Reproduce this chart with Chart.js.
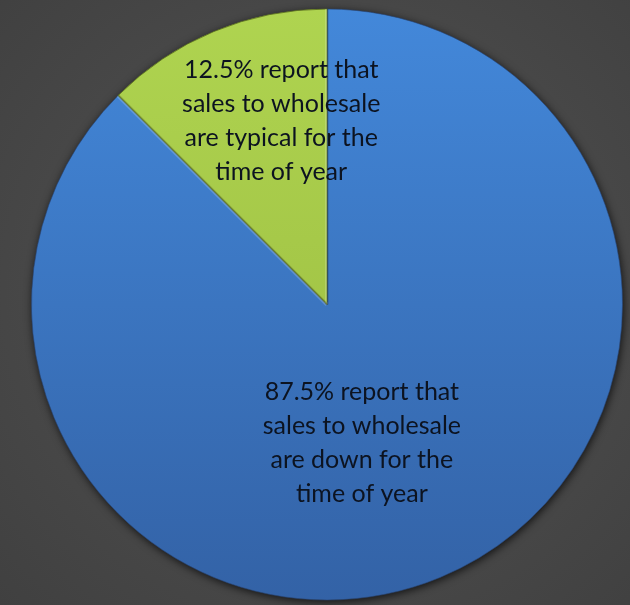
<!DOCTYPE html>
<html>
<head>
<meta charset="utf-8">
<script src="https://cdn.jsdelivr.net/npm/chart.js@4.4.1/dist/chart.umd.min.js"></script>
<style>
  html, body { margin: 0; padding: 0; }
  body {
    width: 630px; height: 605px; overflow: hidden;
    background: radial-gradient(ellipse at 52% 48%, #555555 0%, #4b4b4b 45%, #404040 100%);
  }
  #wrap { position: relative; width: 630px; height: 605px; }
</style>
</head>
<body>
<div id="wrap"><canvas id="pie" width="630" height="605"></canvas></div>
<script>
// Survey responses on wholesale sales for the time of year
const categories = ["Down for the time of year", "Typical for the time of year"];
const shares = [87.5, 12.5];
const labelTails = [
  ["sales to wholesale", "are down for the", "time of year"],
  ["sales to wholesale", "are typical for the", "time of year"]
];

// slice colours: top and bottom stops of each vertical gradient
const sliceTop = ["#4388da", "#afd450"];
const sliceBottom = ["#3362a6", "#98b83e"];

function sliceFill(ctx) {
  const chart = ctx.chart;
  const area = chart.chartArea;
  const i = ctx.dataIndex;
  if (!area) return sliceTop[i];
  const g = chart.ctx.createLinearGradient(0, area.top, 0, area.bottom);
  g.addColorStop(0, sliceTop[i]);
  g.addColorStop(1, sliceBottom[i]);
  return g;
}

// soft shadow under the whole pie
const pieShadow = {
  id: 'pieShadow',
  beforeDatasetsDraw(chart) {
    const arc = chart.getDatasetMeta(0).data[0];
    if (!arc) return;
    const { x, y, outerRadius } = arc.getProps(['x', 'y', 'outerRadius'], true);
    const c = chart.ctx;
    c.save();
    c.shadowColor = 'rgba(0,0,0,0.75)';
    c.shadowBlur = 9;
    c.shadowOffsetX = 1;
    c.shadowOffsetY = 2;
    c.beginPath();
    c.arc(x, y, outerRadius, 0, Math.PI * 2);
    c.fillStyle = '#2f2f2f';
    c.fill();
    c.restore();
  }
};

// bevel highlight: light edge where a slice starts, dark edge where it ends
const sliceBevel = {
  id: 'sliceBevel',
  afterDatasetsDraw(chart) {
    const c = chart.ctx;
    chart.getDatasetMeta(0).data.forEach(arc => {
      const { x, y, startAngle, endAngle, outerRadius } =
        arc.getProps(['x', 'y', 'startAngle', 'endAngle', 'outerRadius'], true);
      c.save();
      c.beginPath();
      c.moveTo(x, y);
      c.arc(x, y, outerRadius, startAngle, endAngle);
      c.closePath();
      c.clip();
      c.lineWidth = 4;
      // edge at the end of the sweep catches the light
      c.strokeStyle = 'rgba(255,255,255,0.18)';
      c.beginPath();
      c.moveTo(x, y);
      c.lineTo(x + outerRadius * Math.cos(endAngle), y + outerRadius * Math.sin(endAngle));
      c.stroke();
      // edge at the start of the sweep sits in shade
      c.lineWidth = 3;
      c.strokeStyle = 'rgba(0,0,0,0.22)';
      c.beginPath();
      c.moveTo(x, y);
      c.lineTo(x + outerRadius * Math.cos(startAngle), y + outerRadius * Math.sin(startAngle));
      c.stroke();
      c.restore();
    });
  }
};

// multi-line value labels placed inside each slice
const sliceLabels = {
  id: 'sliceLabels',
  afterDatasetsDraw(chart, args, opts) {
    const meta = chart.getDatasetMeta(0);
    const c = chart.ctx;
    c.save();
    c.font = opts.font;
    c.fillStyle = opts.color;
    c.textAlign = 'center';
    c.textBaseline = 'middle';
    meta.data.forEach((arc, i) => {
      const { x, y, outerRadius } = arc.getProps(['x', 'y', 'outerRadius'], true);
      const value = chart.data.datasets[0].data[i];
      const lines = [value.toFixed(1) + '% report that'].concat(labelTails[i]);
      const off = opts.offsets[i];
      const cx = x + off[0] * outerRadius;
      const cy = y + off[1] * outerRadius;
      const start = cy - (lines.length - 1) * opts.lineHeight / 2;
      lines.forEach((t, k) => c.fillText(t, cx, start + k * opts.lineHeight));
    });
    c.restore();
  }
};

new Chart(document.getElementById('pie'), {
  type: 'pie',
  data: {
    labels: categories,
    datasets: [{
      data: shares,
      backgroundColor: sliceFill,
      borderColor: ['rgba(40,70,120,0.6)', 'rgba(90,110,30,0.8)'],
      borderWidth: 1
    }]
  },
  options: {
    responsive: false,
    animation: false,
    layout: { padding: { left: 31, right: 7, top: 8, bottom: 4 } },
    plugins: {
      legend: { display: false },
      tooltip: { enabled: false },
      sliceLabels: {
        font: '25px Lato',
        color: '#0c1320',
        lineHeight: 34,
        offsets: [[0.118, 0.47], [-0.155, -0.62]]
      }
    }
  },
  plugins: [pieShadow, sliceBevel, sliceLabels]
});
</script>
</body>
</html>
